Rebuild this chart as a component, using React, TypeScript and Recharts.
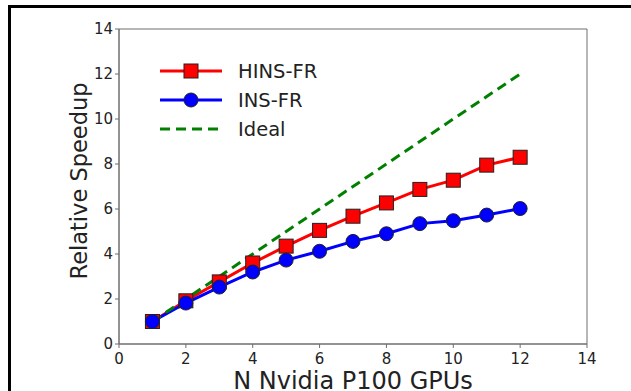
import React from "react";
import {
    LineChart,
    Line,
    XAxis,
    YAxis,
    Legend,
    Label,
    ReferenceArea,
} from "recharts";

// values
const gpus = [1, 2, 3, 4, 5, 6, 7, 8, 9, 10, 11, 12];
const hinsFr = [1.0, 1.92, 2.76, 3.6, 4.35, 5.05, 5.68, 6.27, 6.87, 7.28, 7.95, 8.3];
const insFr = [1.0, 1.82, 2.53, 3.2, 3.73, 4.12, 4.56, 4.9, 5.35, 5.48, 5.73, 6.02];
const ideal = [1, 2, 3, 4, 5, 6, 7, 8, 9, 10, 11, 12];
const axisTicks = [0, 2, 4, 6, 8, 10, 12, 14];

const data = gpus.map((n, i) => ({
    n,
    hins: hinsFr[i],
    ins: insFr[i],
    ideal: ideal[i],
}));

const FONT = "'DejaVu Sans', sans-serif";
const AXIS = "#6e6e6e";

const SquareDot = (props: any) => {
    const { cx, cy, index } = props;
    if (cx == null || cy == null) return null;
    return (
        <rect
            key={"sq-" + index}
            x={cx - 7}
            y={cy - 7}
            width={14}
            height={14}
            fill="#ff0000"
            stroke="#222"
            strokeWidth={1}
        />
    );
};

const legendItems = [
    { name: "HINS-FR", color: "#ff0000", marker: "square" },
    { name: "INS-FR", color: "#0000ff", marker: "circle" },
    { name: "Ideal", color: "#008000", marker: "dash" },
];

const LegendBox = () => (
    <svg width={200} height={95} style={{ display: "block", overflow: "visible" }}>
        {legendItems.map((item, i) => {
            const y = 16 + i * 29;
            return (
                <g key={item.name}>
                    {item.marker === "dash" ? (
                        <line
                            x1={10}
                            x2={72}
                            y1={y}
                            y2={y}
                            stroke={item.color}
                            strokeWidth={3}
                            strokeDasharray="10 6"
                        />
                    ) : (
                        <line
                            x1={10}
                            x2={72}
                            y1={y}
                            y2={y}
                            stroke={item.color}
                            strokeWidth={3}
                        />
                    )}
                    {item.marker === "square" && (
                        <rect
                            x={34}
                            y={y - 7}
                            width={14}
                            height={14}
                            fill={item.color}
                            stroke="#222"
                        />
                    )}
                    {item.marker === "circle" && (
                        <circle cx={41} cy={y} r={7} fill={item.color} stroke="#222" />
                    )}
                    <text
                        x={88}
                        y={y + 7}
                        fontFamily={FONT}
                        fontSize={19.5}
                        fill="#222"
                    >
                        {item.name}
                    </text>
                </g>
            );
        })}
    </svg>
);

export default function App() {
    return (
        <div
            style={{
                position: "absolute",
                left: 0,
                top: 0,
                width: 631,
                height: 391,
                overflow: "hidden",
                background: "#fff",
            }}
        >
            <div
                style={{
                    position: "absolute",
                    left: 8,
                    top: 5,
                    width: 700,
                    height: 500,
                    borderTop: "3px solid #000",
                    borderLeft: "3px solid #000",
                }}
            />
            <LineChart
                width={631}
                height={391}
                data={data}
                margin={{ top: 29, right: 44, bottom: 0, left: 0 }}
                style={{ position: "absolute", left: 0, top: 0 }}
            >
                <XAxis
                    dataKey="n"
                    type="number"
                    domain={[0, 14]}
                    ticks={axisTicks}
                    height={47}
                    stroke={AXIS}
                    tickSize={4}
                    tickMargin={5}
                    tick={{ fill: "#222", fontSize: 15, fontFamily: FONT }}
                >
                    <Label
                        content={(props: any) => {
                            const vb = props.viewBox;
                            return (
                                <text
                                    x={vb.x + vb.width / 2}
                                    y={389}
                                    textAnchor="middle"
                                    fontFamily={FONT}
                                    fontSize={24}
                                    fill="#222"
                                >
                                    N Nvidia P100 GPUs
                                </text>
                            );
                        }}
                    />
                </XAxis>
                <YAxis
                    type="number"
                    domain={[0, 14]}
                    ticks={axisTicks}
                    width={119}
                    stroke={AXIS}
                    tickSize={4}
                    tickMargin={2}
                    tick={{ fill: "#222", fontSize: 15, fontFamily: FONT }}
                >
                    <Label
                        content={() => (
                            <text
                                x={87}
                                y={181}
                                transform="rotate(-90 87 181)"
                                textAnchor="middle"
                                fontFamily={FONT}
                                fontSize={22.5}
                                fill="#222"
                            >
                                Relative Speedup
                            </text>
                        )}
                    />
                </YAxis>
                <ReferenceArea
                    x1={0}
                    x2={14}
                    y1={0}
                    y2={14}
                    fill="none"
                    stroke={AXIS}
                    strokeWidth={1}
                />
                <Legend
                    layout="vertical"
                    align="center"
                    verticalAlign="middle"
                    content={() => <LegendBox />}
                    wrapperStyle={{ left: 150, top: 55, width: 200, height: 95 }}
                />
                <Line
                    dataKey="hins"
                    stroke="#ff0000"
                    strokeWidth={3}
                    dot={<SquareDot />}
                    activeDot={false}
                    isAnimationActive={false}
                />
                <Line
                    dataKey="ins"
                    stroke="#0000ff"
                    strokeWidth={3}
                    dot={{ r: 7, fill: "#0000ff", stroke: "#222", strokeWidth: 1 }}
                    activeDot={false}
                    isAnimationActive={false}
                />
                <Line
                    dataKey="ideal"
                    stroke="#008000"
                    strokeWidth={3}
                    strokeDasharray="10 6"
                    dot={false}
                    activeDot={false}
                    isAnimationActive={false}
                />
            </LineChart>
        </div>
    );
}
